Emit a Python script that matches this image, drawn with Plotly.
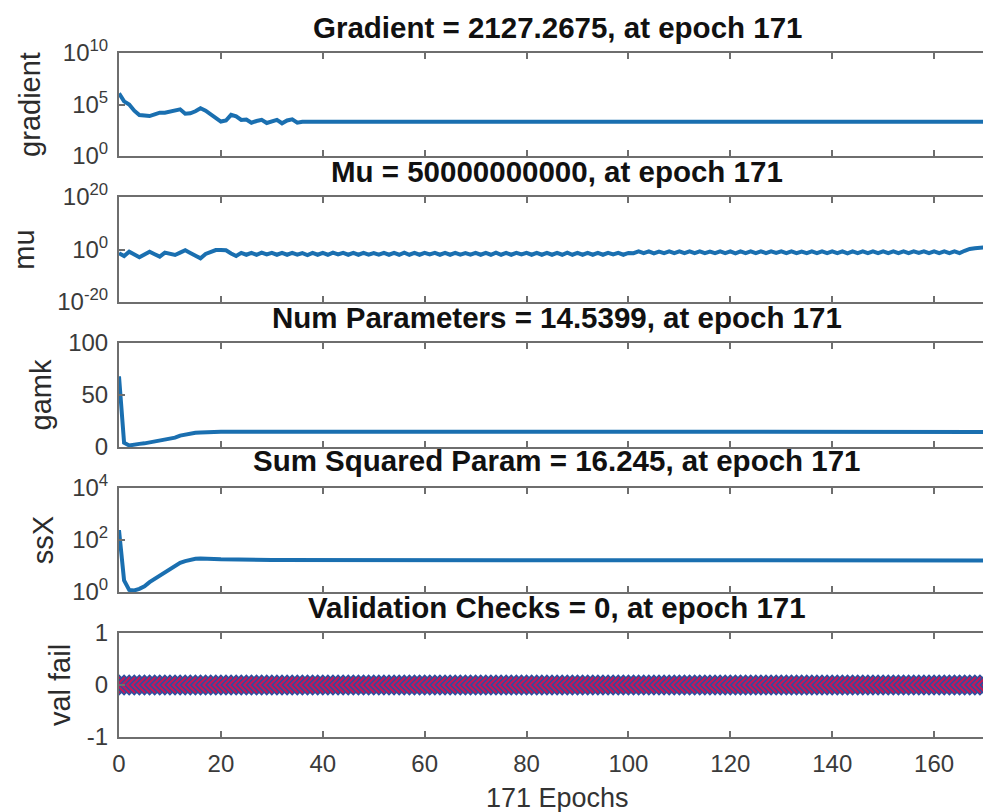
import plotly.graph_objects as go

# ---------------- data ----------------
# gradient (epochs with values; flat after epoch 36)
grad_epochs = list(range(0, 37)) + [171]
grad_values = [1.2e6, 2.0e5, 1.0e5, 2.5e4, 9.5e3, 7.9e3, 7.6e3, 1.1e4, 1.6e4, 1.6e4,
               2.0e4, 2.2e4, 3.4e4, 1.26e4, 1.4e4, 2.2e4, 4.3e4, 2.5e4, 1.1e4, 4.0e3,
               2.2e3, 2.8e3, 1.0e4, 7.1e3, 3.2e3, 3.5e3, 1.7e3, 2.5e3, 3.2e3, 1.6e3,
               2.2e3, 3.2e3, 1.5e3, 2.8e3, 3.6e3, 1.7e3, 2.1e3, 2127.2675]

# mu (log10 exponents, one per epoch 0..171)
mu_epochs = list(range(0, 172))
mu_log10 = [-1.46, -2.48, -0.83, -1.9, -2.98, -1.9, -0.83, -1.8, -2.73, -1.2,
            -1.7, -2.1, -1.2, -0.3, -1.3, -2.4, -3.37, -1.71, -1.0, -0.2,
            -0.2, -0.3, -1.5, -2.5,
            -1.3, -2.0, -1.3, -2.0, -1.2, -1.9, -1.3, -2.0, -1.3, -2.0,
            -1.3, -2.0, -1.4, -2.1, -1.3, -2.0, -1.3, -2.0, -1.2, -1.9,
            -1.3, -2.0, -1.3, -2.0, -1.3, -2.0, -1.4, -2.0, -1.3, -2.0,
            -1.3, -2.0, -1.2, -2.0, -1.3, -2.0, -1.3, -1.9, -1.3, -2.0,
            -1.3, -2.0, -1.3, -2.0, -1.4, -2.0, -1.3, -2.0, -1.3, -2.0,
            -1.2, -2.0, -1.3, -2.0, -1.3, -1.9, -1.3, -2.0, -1.3, -2.0,
            -1.3, -2.0, -1.3, -2.0, -1.2, -2.0, -1.3, -2.0, -1.3, -2.0,
            -1.3, -2.0, -1.3, -1.9, -1.3, -2.0, -1.3,
            -1.4, -0.7, -1.4, -0.7, -1.5, -0.8, -1.4, -0.7, -1.4, -0.7,
            -1.4, -0.7, -1.4, -0.7, -1.4, -0.8, -1.4, -0.7, -1.4, -0.7,
            -1.5, -0.7, -1.4, -0.7, -1.4, -0.7, -1.4, -0.7, -1.3, -0.7,
            -1.4, -0.7, -1.4, -0.8, -1.4, -0.7, -1.4, -0.7, -1.4, -0.7,
            -1.4, -0.7, -1.5, -0.7, -1.4, -0.7, -1.4, -0.7, -1.4, -0.7,
            -1.4, -0.7, -1.4, -0.7, -1.4, -0.7, -1.3, -0.7, -1.4, -0.7,
            -1.4, -0.7, -1.4, -0.7, -1.4,
            -0.5, 0.2, 0.5, 0.6, 0.8, 10.7]

# num parameters (gamk)
gamk_epochs = list(range(0, 19)) + [20, 30, 171]
gamk_values = [68, 4, 1.5, 2.5, 3, 3.5, 4.5, 5.3, 6, 7,
               8, 9, 11, 12, 13, 13.6, 14, 14.3, 14.5, 14.7, 14.7, 14.5399]

# sum squared parameters (ssX)
ssx_epochs = list(range(0, 18)) + [20, 30, 171]
ssx_values = [240, 2.8, 1.2, 1.15, 1.32, 1.66, 2.4, 3.16, 4.2, 5.75,
              7.9, 10.5, 13.2, 15.5, 17.4, 19.1, 19.5, 19.1, 18.2, 17.0, 16.245]

# validation checks (one per epoch 0..171)
val_epochs = list(range(0, 172))
val_fail = [0, 0, 0, 0, 0, 0, 0, 0, 0, 0, 0, 0, 0, 0, 0, 0, 0, 0, 0, 0,
            0, 0, 0, 0, 0, 0, 0, 0, 0, 0, 0, 0, 0, 0, 0, 0, 0, 0, 0, 0,
            0, 0, 0, 0, 0, 0, 0, 0, 0, 0, 0, 0, 0, 0, 0, 0, 0, 0, 0, 0,
            0, 0, 0, 0, 0, 0, 0, 0, 0, 0, 0, 0, 0, 0, 0, 0, 0, 0, 0, 0,
            0, 0, 0, 0, 0, 0, 0, 0, 0, 0, 0, 0, 0, 0, 0, 0, 0, 0, 0, 0,
            0, 0, 0, 0, 0, 0, 0, 0, 0, 0, 0, 0, 0, 0, 0, 0, 0, 0, 0, 0,
            0, 0, 0, 0, 0, 0, 0, 0, 0, 0, 0, 0, 0, 0, 0, 0, 0, 0, 0, 0,
            0, 0, 0, 0, 0, 0, 0, 0, 0, 0, 0, 0, 0, 0, 0, 0, 0, 0, 0, 0,
            0, 0, 0, 0, 0, 0, 0, 0, 0, 0, 0, 0]

titles = ["Gradient = 2127.2675, at epoch 171",
          "Mu = 50000000000, at epoch 171",
          "Num Parameters = 14.5399, at epoch 171",
          "Sum Squared Param = 16.245, at epoch 171",
          "Validation Checks = 0, at epoch 171"]
ylabels = ["gradient", "mu", "gamk", "ssX", "val fail"]
x_ticks = [0, 20, 40, 60, 80, 100, 120, 140, 160]
xlabel = "171 Epochs"

# ---------------- figure ----------------
W, H = 983, 812
FONT = "Liberation Sans, Arial, Helvetica, sans-serif"
LINE = "#1a6fb0"
AX = "#6e6e6e"
TXT = "#2b2b2b"

panels_px = [(53, 156), (197, 302), (343, 447), (488, 592), (633, 737)]
title_px = [28, 171, 317, 460, 607]
ytitle_standoff = [14, 14, 8, 10, 8]

def pdom(top, bot):
    return [1 - bot / H, 1 - top / H]

mu_values = [10 ** v for v in mu_log10]

fig = go.Figure()
fig.add_trace(go.Scatter(x=grad_epochs, y=grad_values, mode="lines",
                         line=dict(color=LINE, width=4), xaxis="x", yaxis="y"))
fig.add_trace(go.Scatter(x=mu_epochs, y=mu_values, mode="lines",
                         line=dict(color=LINE, width=4), xaxis="x2", yaxis="y2"))
fig.add_trace(go.Scatter(x=gamk_epochs, y=gamk_values, mode="lines",
                         line=dict(color=LINE, width=4), xaxis="x3", yaxis="y3"))
fig.add_trace(go.Scatter(x=ssx_epochs, y=ssx_values, mode="lines",
                         line=dict(color=LINE, width=4), xaxis="x4", yaxis="y4"))
fig.add_trace(go.Scatter(x=val_epochs, y=val_fail, mode="lines+markers",
                         line=dict(color=LINE, width=3),
                         marker=dict(symbol="diamond", size=15, color="#c0185a",
                                     line=dict(color="#2c50a0", width=1.5)),
                         xaxis="x5", yaxis="y5"))

layout = dict(width=W, height=H, showlegend=False,
              margin=dict(l=119, r=0, t=0, b=0, autoexpand=False),
              paper_bgcolor="white", plot_bgcolor="white",
              font=dict(family=FONT, color=TXT, size=24))

yspecs = [
    dict(type="log", range=[0, 10], tickvals=[1, 1e5, 1e10],
         ticktext=["10<sup>0</sup>", "10<sup>5</sup>", "10<sup>10</sup>"]),
    dict(type="log", range=[-20, 20], tickvals=[1e-20, 1, 1e20],
         ticktext=["10<sup>-20</sup>", "10<sup>0</sup>", "10<sup>20</sup>"]),
    dict(type="linear", range=[0, 100], tickvals=[0, 50, 100],
         ticktext=["0", "50", "100"]),
    dict(type="log", range=[0, 4], tickvals=[1, 100, 1e4],
         ticktext=["10<sup>0</sup>", "10<sup>2</sup>", "10<sup>4</sup>"]),
    dict(type="linear", range=[-1, 1], tickvals=[-1, 0, 1],
         ticktext=["-1", "0", "1"]),
]

annotations = []
for i in range(5):
    s = "" if i == 0 else str(i + 1)
    top, bot = panels_px[i]
    layout["xaxis" + s] = dict(
        domain=[0, 1], range=[0, 169.6], anchor="y" + s, automargin=False,
        tickvals=x_ticks, ticktext=[str(t) for t in x_ticks],
        showticklabels=(i == 4), ticks="inside", ticklen=6, tickwidth=1.5,
        tickcolor=AX, showline=True, linecolor=AX, linewidth=2,
        mirror="ticks", showgrid=False, zeroline=False,
        tickfont=dict(size=24, color="#3a3a3a"), ticklabelstandoff=4)
    ys = yspecs[i]
    layout["yaxis" + s] = dict(
        domain=pdom(top, bot), anchor="x" + s, type=ys["type"], range=ys["range"],
        automargin=False,
        tickvals=ys["tickvals"], ticktext=ys["ticktext"],
        ticks="inside", ticklen=6, tickwidth=1.5, tickcolor=AX,
        showline=True, linecolor=AX, linewidth=2, mirror=False,
        showgrid=False, zeroline=False,
        tickfont=dict(size=24, color="#3a3a3a"), ticklabelstandoff=4,
        title=dict(text=ylabels[i], font=dict(size=29, color="#2b2b2b"),
                   standoff=ytitle_standoff[i]))
    annotations.append(dict(
        text="<b>" + titles[i] + "</b>", xref="x" + s, yref="paper",
        x=86, y=1 - title_px[i] / H, xanchor="center", yanchor="middle",
        showarrow=False, font=dict(size=29.5, color="#111111", family=FONT)))

annotations.append(dict(text=xlabel, xref="x5", yref="paper", x=86, y=1 - 798 / H,
                        xanchor="center", yanchor="middle", showarrow=False,
                        font=dict(size=27, color="#333333", family=FONT)))
layout["annotations"] = annotations

fig.update_layout(**layout)
fig.write_html("out.html")
